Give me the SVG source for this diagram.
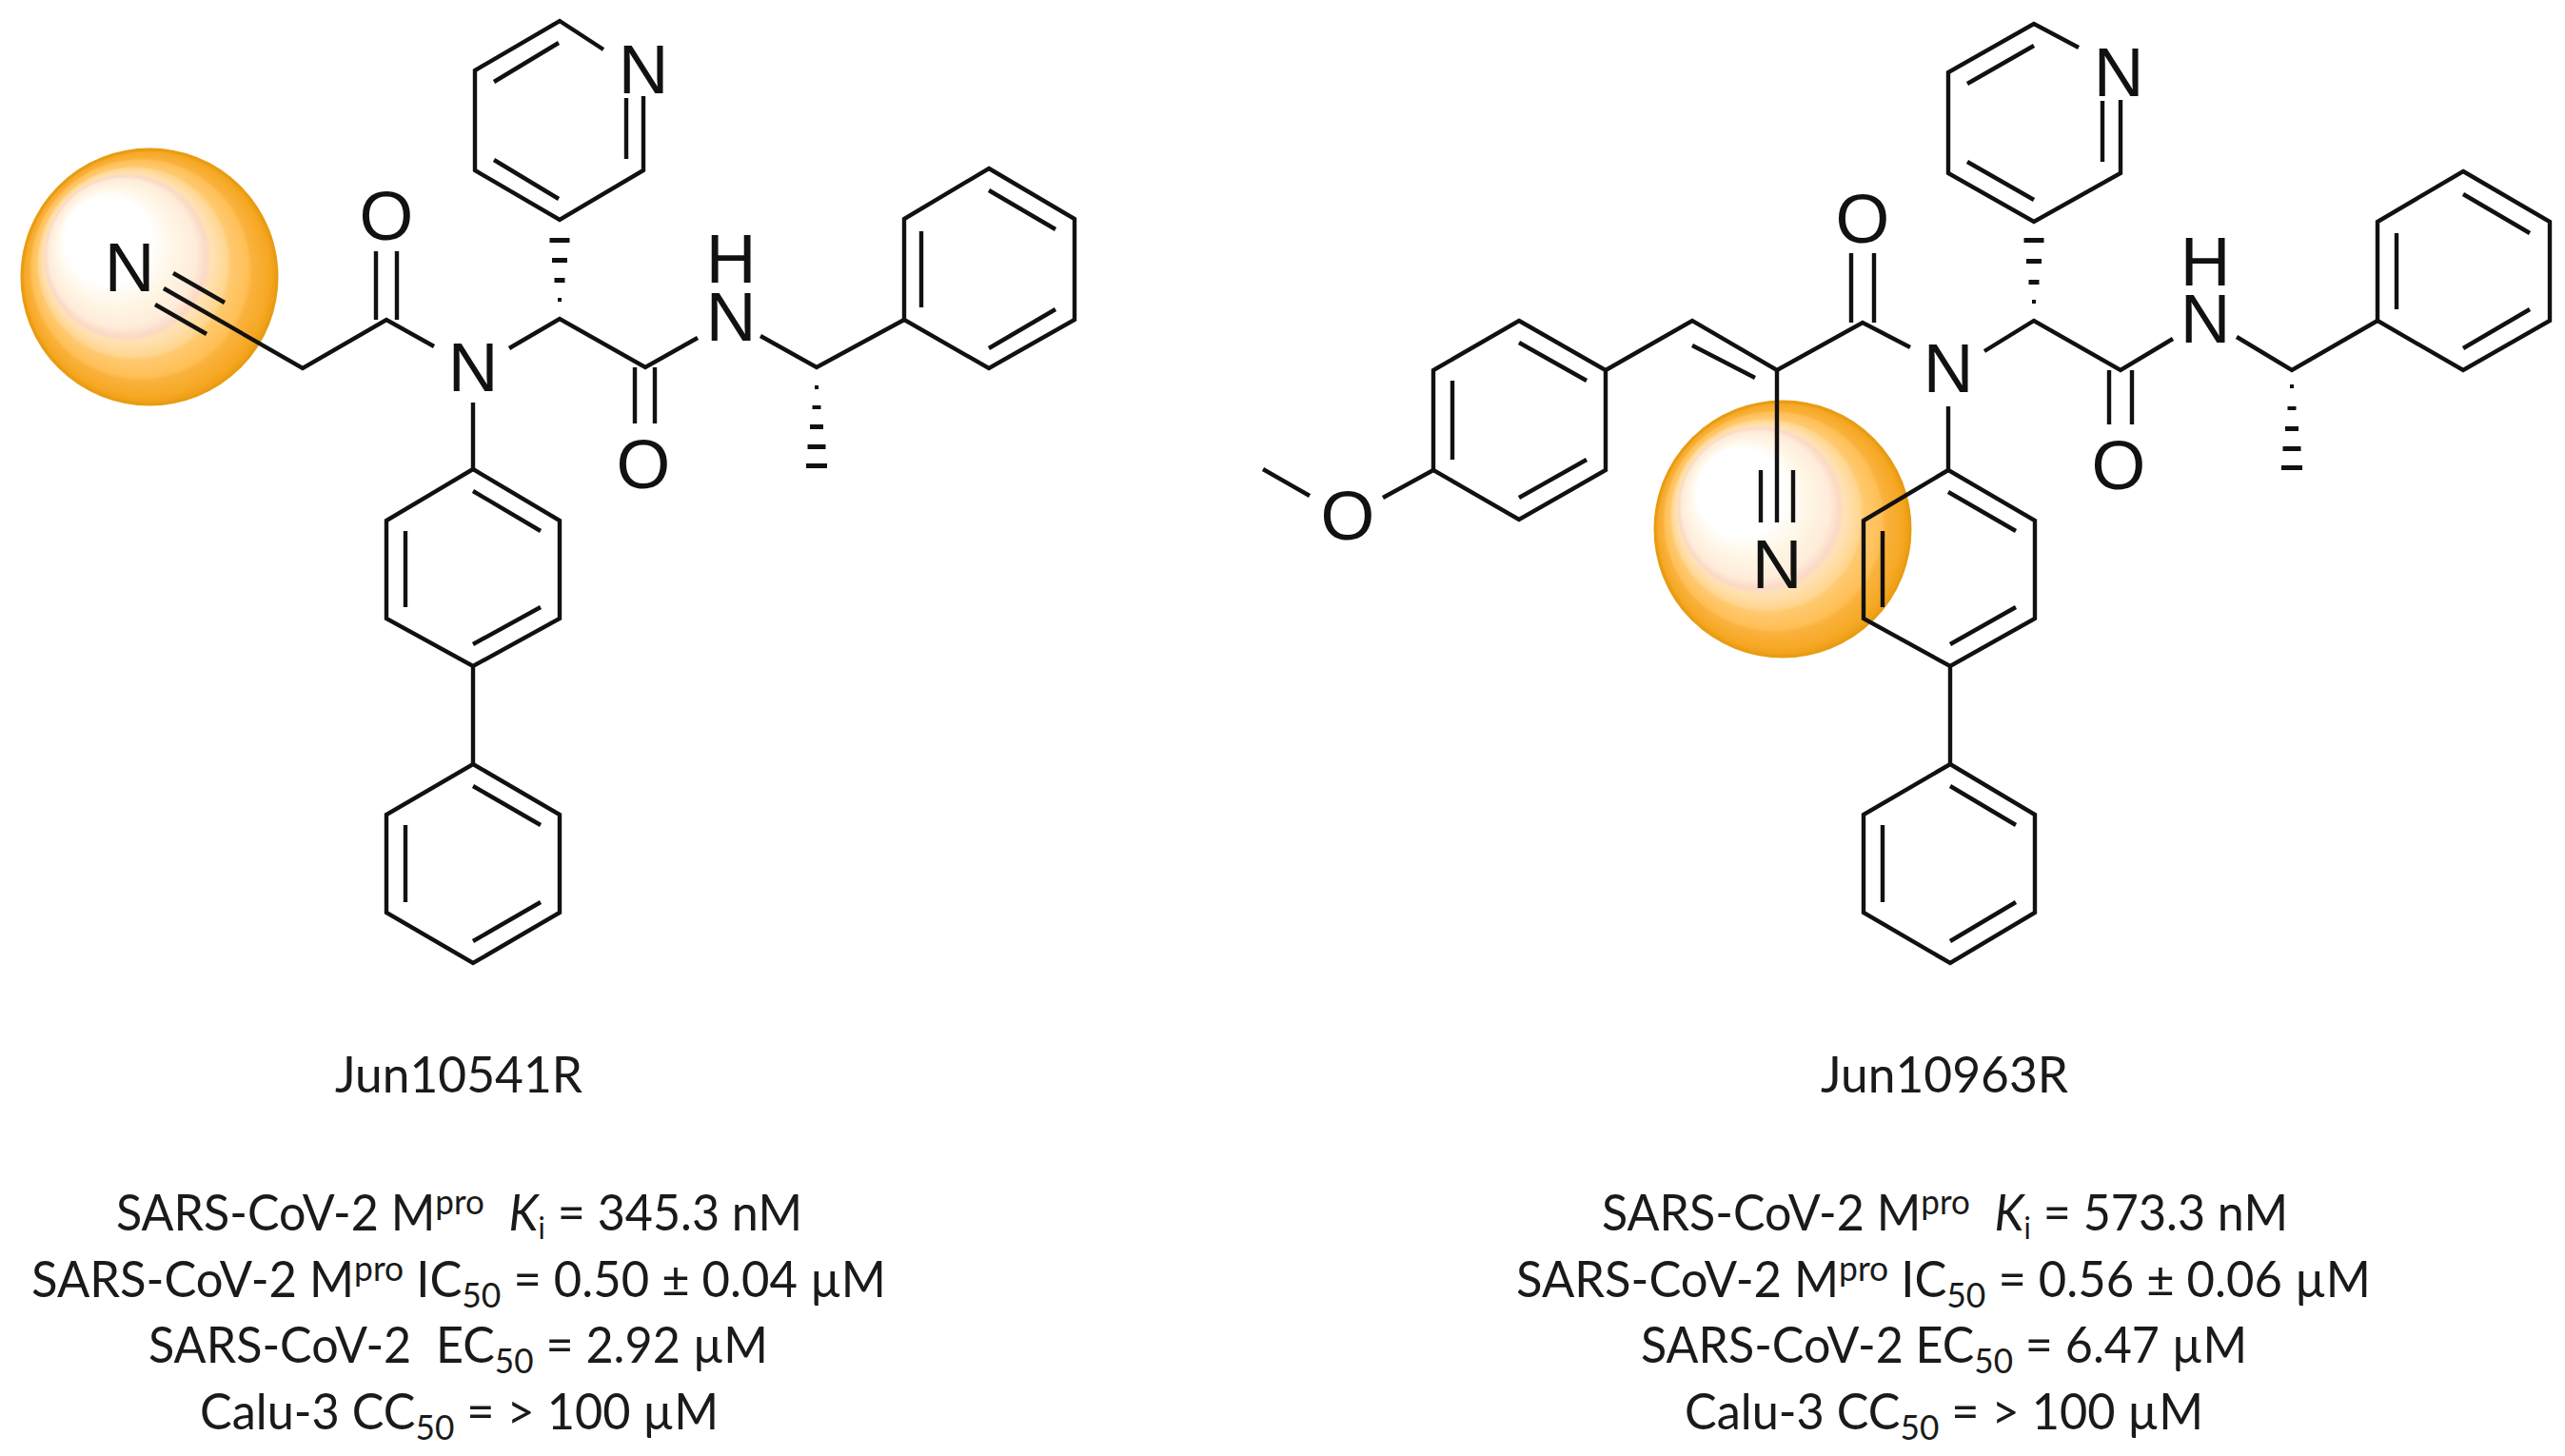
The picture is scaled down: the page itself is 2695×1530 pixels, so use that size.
<svg xmlns="http://www.w3.org/2000/svg" width="2695" height="1530" viewBox="0 0 2695 1530">
<style>
.b{fill:none;stroke:#111;stroke-width:4.4;stroke-linejoin:miter;stroke-linecap:butt}
.a{font-family:"Liberation Sans",Arial,sans-serif;font-size:73px;fill:#111;text-anchor:middle}
.t{font-family:Lato,"Open Sans",sans-serif;font-size:53px;fill:#1a1a1a}
.h{fill:#111}
.s{font-size:37px}
.k{font-size:32px}
.ball{fill:url(#glow);stroke:#E89C14;stroke-width:3}
</style>
<defs>
<radialGradient id="glow" cx=".5" cy=".5" r=".5" fx=".25" fy=".28">
<stop offset="0" stop-color="#fff"/>
<stop offset=".34" stop-color="#fff"/>
<stop offset=".46" stop-color="#fff6e6"/>
<stop offset=".58" stop-color="#feecd9"/>
<stop offset=".63" stop-color="#fbd9c6"/>
<stop offset=".66" stop-color="#ffe2b4"/>
<stop offset=".74" stop-color="#ffd690"/>
<stop offset=".76" stop-color="#ffc970"/>
<stop offset=".85" stop-color="#ffbf55"/>
<stop offset=".87" stop-color="#fab23e"/>
<stop offset=".96" stop-color="#f6a824"/>
<stop offset="1" stop-color="#ec9d14"/>
</radialGradient>
</defs>
<rect width="2695" height="1530" fill="#fff"/>

<g id="jun10541r-highlight"><circle class="ball" cx="157" cy="291" r="134"/></g>
<g id="jun10963r-highlight"><circle class="ball" cx="1873" cy="556" r="134"/></g>

<g id="jun10541r-bonds">
<path class="b" d="M634 52L588 22L499 74V179L588 231L676 179V101M658 103V167M587 45L519 86M519 168L587 209"/>
<path class="b" d="M1039 177L1129 230V336L1039 387L950 336V230ZM1039 200L1109 241M968 243V323M1109 325L1039 366"/>
<path class="b" d="M497 423V493L588 547V650L497 700L406 650V547L497 493M497 516L568 558M426 558V638M568 638L497 677M497 700V803"/>
<path class="b" d="M497 803L588 856V959L497 1012L406 959V856ZM497 826L568 867M426 867V948M568 948L497 989"/>
<path class="b" d="M172 303L318 387L406 336L456 364M535 366L588 335L678 386L733 355M799 353L858 386L950 336"/>
<path class="b" d="M182 287L236 318M163 320L217 351M395 264V336M417 264V336M667 386V445M688 386V445"/>
</g>
<g id="jun10541r-hashes" class="h">
<rect x="577.500" y="250" width="21" height="5"/><rect x="580" y="271" width="16" height="5"/><rect x="582.500" y="292" width="11" height="5"/><rect x="586" y="313" width="4" height="4"/>
<rect x="856" y="405" width="4" height="4"/><rect x="853.500" y="426" width="9" height="4"/><rect x="851" y="446" width="14" height="5"/><rect x="848.500" y="467" width="19" height="5"/><rect x="847" y="487" width="22" height="5"/>
</g>
<g id="jun10541r-atoms">
<text class="a" x="676" y="98">N</text>
<text class="a" x="136" y="306">N</text>
<text class="a" x="406" y="252">O</text>
<text class="a" x="497" y="411">N</text>
<text class="a" x="768" y="358">N</text>
<text class="a" x="768" y="297">H</text>
<text class="a" x="676" y="513">O</text>
</g>

<g id="jun10963r-bonds">
<path class="b" d="M2184 50L2137 25L2047 76V182L2137 233L2228 182V105M2209 106V170M2137 48L2067 88M2067 170L2137 210"/>
<path class="b" d="M2588 180L2679 233V337L2588 389L2498 337V233ZM2588 204L2658 245M2518 245V325M2658 325L2588 366"/>
<path class="b" d="M1596 337L1687 389V494L1596 546L1506 494V389ZM1596 360L1667 400M1526 400V483M1667 483L1596 523"/>
<path class="b" d="M1687 389L1778 337L1867 389L1957 339L2007 365M2085 369L2137 337L2228 389L2283 356M2350 354L2408 389L2498 337M1778 363L1844 397"/>
<path class="b" d="M1506 494L1453 523M1376 521L1327 493M1867 389V549M1850 494V549M1884 494V549M1945 266V339M1969 266V339M2216 389V446M2240 389V446"/>
<path class="b" d="M2047 427V494L2138 547V650L2049 700L1958 650V547L2047 494M2047 517L2118 558M1978 558V638M2118 638L2049 677M2049 700V803"/>
<path class="b" d="M2049 803L2138 856V959L2049 1012L1958 959V856ZM2049 826L2118 867M1978 867V948M2118 948L2049 989"/>
</g>
<g id="jun10963r-hashes" class="h">
<rect x="2126.500" y="250" width="21" height="5"/><rect x="2129" y="272" width="16" height="5"/><rect x="2131.500" y="294" width="11" height="5"/><rect x="2135" y="315" width="4" height="4"/>
<rect x="2406" y="404" width="4" height="4"/><rect x="2403.500" y="427" width="9" height="4"/><rect x="2401" y="448" width="14" height="5"/><rect x="2398.500" y="469" width="19" height="5"/><rect x="2397" y="489" width="22" height="5"/>
</g>
<g id="jun10963r-atoms">
<text class="a" x="2226" y="101">N</text>
<text class="a" x="1957" y="255">O</text>
<text class="a" x="2047" y="412">N</text>
<text class="a" x="2317" y="360">N</text>
<text class="a" x="2317" y="300">H</text>
<text class="a" x="2226" y="514">O</text>
<text class="a" x="1416" y="567">O</text>
<text class="a" x="1867" y="618">N</text>
</g>

<g id="jun10541r-labels">
<text class="t" x="352" y="1148" textLength="260" lengthAdjust="spacingAndGlyphs">Jun10541R</text>
<text class="t" x="122" y="1293" textLength="721" lengthAdjust="spacingAndGlyphs">SARS-CoV-2 M<tspan class="s" dy="-17">pro</tspan><tspan dy="17" xml:space="preserve">  </tspan><tspan font-style="italic">K</tspan><tspan class="k" dy="9">i</tspan><tspan dy="-9"> = 345.3 nM</tspan></text>
<text class="t" x="33" y="1363" textLength="898" lengthAdjust="spacingAndGlyphs">SARS-CoV-2 M<tspan class="s" dy="-17">pro</tspan><tspan dy="17"> IC</tspan><tspan class="s" dy="11">50</tspan><tspan dy="-11"> = 0.50 ± 0.04 µM</tspan></text>
<text class="t" x="156" y="1432" textLength="651" lengthAdjust="spacingAndGlyphs" xml:space="preserve">SARS-CoV-2  EC<tspan class="s" dy="11">50</tspan><tspan dy="-11"> = 2.92 µM</tspan></text>
<text class="t" x="210" y="1502" textLength="545" lengthAdjust="spacingAndGlyphs">Calu-3 CC<tspan class="s" dy="11">50</tspan><tspan dy="-11"> = &gt; 100 µM</tspan></text>
</g>
<g id="jun10963r-labels">
<text class="t" x="1913" y="1148" textLength="260" lengthAdjust="spacingAndGlyphs">Jun10963R</text>
<text class="t" x="1683" y="1293" textLength="721" lengthAdjust="spacingAndGlyphs">SARS-CoV-2 M<tspan class="s" dy="-17">pro</tspan><tspan dy="17" xml:space="preserve">  </tspan><tspan font-style="italic">K</tspan><tspan class="k" dy="9">i</tspan><tspan dy="-9"> = 573.3 nM</tspan></text>
<text class="t" x="1593" y="1363" textLength="898" lengthAdjust="spacingAndGlyphs">SARS-CoV-2 M<tspan class="s" dy="-17">pro</tspan><tspan dy="17"> IC</tspan><tspan class="s" dy="11">50</tspan><tspan dy="-11"> = 0.56 ± 0.06 µM</tspan></text>
<text class="t" x="1724" y="1432" textLength="637" lengthAdjust="spacingAndGlyphs">SARS-CoV-2 EC<tspan class="s" dy="11">50</tspan><tspan dy="-11"> = 6.47 µM</tspan></text>
<text class="t" x="1770" y="1502" textLength="545" lengthAdjust="spacingAndGlyphs">Calu-3 CC<tspan class="s" dy="11">50</tspan><tspan dy="-11"> = &gt; 100 µM</tspan></text>
</g>
</svg>
